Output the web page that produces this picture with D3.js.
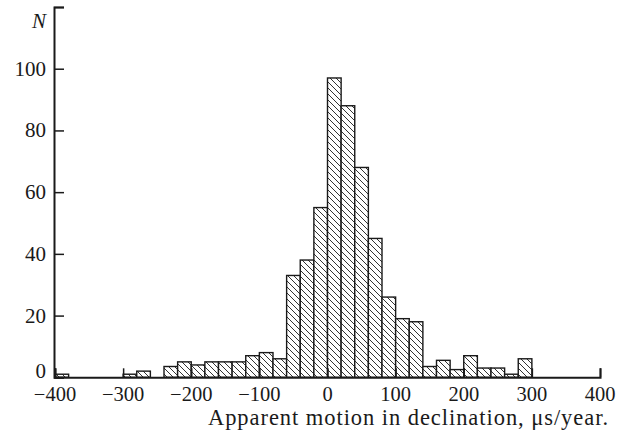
<!DOCTYPE html>
<html><head><meta charset="utf-8">
<script src="https://cdn.jsdelivr.net/npm/d3@7"></script>
<style>
body{margin:0;background:#fff;}
text{font-family:"Liberation Serif","DejaVu Serif",serif;fill:#1a1a1a;}
</style></head>
<body>
<svg id="c" width="620" height="434"></svg>
<script>
// Bin left edges (μs/year), bin width 20
const binStarts = [-400,-300,-280,-240,-220,-200,-180,-160,-140,-120,-100,-80,-60,-40,-20,0,20,40,60,80,100,120,140,160,180,200,220,240,260,280];
const counts    = [1,1,2,3.5,5,4,5,5,5,7,8,6,33,38,55,97,88,68,45,26,19,18,3.5,5.5,2.5,7,3,3,1,6];
const binWidth = 20;
const xTicks = [-400,-300,-200,-100,0,100,200,300,400];
const yTicks = [0,20,40,60,80,100];
const yTop = 120;
const xTitle = "Apparent motion in declination, μs/year.";
const yTitle = "N";

const svg = d3.select("#c");
const x = d3.scaleLinear().domain([-400,400]).range([55,600]);
const y = d3.scaleLinear().domain([0,yTop]).range([377.3,7]);

const defs = svg.append("defs");
const pat = defs.append("pattern").attr("id","hatch").attr("patternUnits","userSpaceOnUse")
  .attr("width",6).attr("height",6);
pat.append("rect").attr("width",6).attr("height",6).attr("fill","#fff");
pat.append("path").attr("d","M0,0 L6,6 M-1,5 L1,7 M5,-1 L7,1")
  .attr("stroke","#333").attr("stroke-width",1);

const data = binStarts.map((s,i)=>({s, c:counts[i]}));
svg.append("g").selectAll("rect").data(data).join("rect")
  .attr("x",d=>x(d.s)).attr("width",d=>x(d.s+binWidth)-x(d.s))
  .attr("y",d=>y(d.c)).attr("height",d=>y(0)-y(d.c))
  .attr("fill","url(#hatch)").attr("stroke","#1a1a1a").attr("stroke-width",1.4);

// x axis (ticks inward / upward)
const xa = svg.append("g").attr("transform",`translate(0,${y(0)})`)
  .call(d3.axisTop(x).tickValues(xTicks).tickSize(9).tickFormat(""));
xa.select(".domain").attr("stroke","#1a1a1a").attr("stroke-width",2);
xa.selectAll(".tick line").attr("stroke","#1a1a1a").attr("stroke-width",1.5);
svg.append("g").selectAll("text").data(xTicks).join("text")
  .attr("x",d=>x(d)).attr("y",401).attr("text-anchor","middle")
  .attr("font-size",20.5).text(d=>d<0?"\u2212"+Math.abs(d):d);

// y axis (ticks inward / right)
const ya = svg.append("g").attr("transform",`translate(${x(-400)-1},0)`)
  .call(d3.axisRight(y).tickValues(yTicks.concat([yTop])).tickSize(10).tickFormat(""));
ya.select(".domain").attr("stroke","#1a1a1a").attr("stroke-width",2);
ya.selectAll(".tick line").attr("stroke","#1a1a1a").attr("stroke-width",1.5);
svg.append("g").selectAll("text").data(yTicks).join("text")
  .attr("x",46).attr("y",d=>y(d)+(d===0?1:7)).attr("text-anchor","end")
  .attr("font-size",21).text(d=>d);

svg.append("text").attr("x",46).attr("y",y(yTop)+21).attr("text-anchor","end")
  .attr("font-size",21).attr("font-style","italic").text(yTitle);
svg.append("text").attr("x",208).attr("y",424.5).attr("text-anchor","start")
  .attr("font-size",22.5).attr("textLength",400).attr("lengthAdjust","spacing").text(xTitle);
</script>
</body></html>
